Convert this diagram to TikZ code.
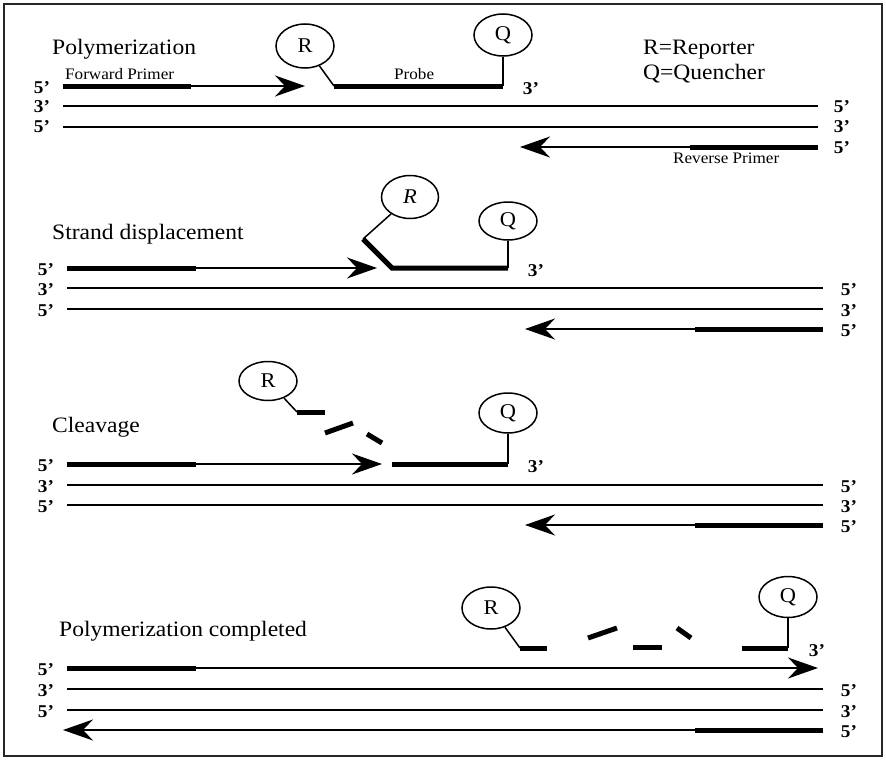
\documentclass[tikz,border=0pt]{standalone}
\usepackage{fontspec}
\setmainfont{Liberation Serif}[FakeStretch=1.07]
\usetikzlibrary{arrows.meta,shapes.geometric}
\begin{document}
\begin{tikzpicture}[x=1pt,y=-1pt,
  strand/.style={line width=2pt},
  thickstrand/.style={line width=5pt},
  frag/.style={line width=5pt},
  link/.style={line width=1.5pt},
  tag/.style={ellipse,draw,line width=1.5pt,inner sep=0pt,minimum width=58pt,minimum height=42pt,font=\fontsize{21}{22}\selectfont},
  heading/.style={anchor=base west,inner sep=0pt,font=\fontsize{22}{24}\selectfont},
  small/.style={anchor=base west,inner sep=0pt,font=\fontsize{16}{18}\selectfont},
  endlab/.style={inner sep=0pt,font=\bfseries\fontsize{18}{20}\selectfont},
  fwd/.style={line width=2pt,-{Stealth[length=30pt,width=21pt,inset=10pt]}},
]
\useasboundingbox (0,0) rectangle (886,760);
\draw[line width=1.5pt,black!85] (4,4) rectangle (882,756);

% ================= Panel 1: Polymerization =================
\node[heading] (h1) at (52,55) {Polymerization};
\node[heading] (leg1) at (643,55) {R=Reporter};
\node[heading] (leg2) at (643,79) {Q=Quencher};
\node[small] (fp) at (65,79) {Forward Primer};
\node[small] (pb) at (394,79) {Probe};
\node[small] (rp) at (673,163) {Reverse Primer};

\node[endlab] (l11) at (42,88) {5’};
\node[endlab] (l12) at (42,107) {3’};
\node[endlab] (l13) at (42,127) {5’};
\node[endlab] (r12) at (842,107) {5’};
\node[endlab] (r13) at (842,127) {3’};
\node[endlab] (r14) at (842,148) {5’};

\coordinate (a1s) at (63,86);   \coordinate (a1p) at (191,86);  \coordinate (a1t) at (305,86);
\draw[fwd] (a1s) -- (a1t);
\draw[thickstrand] (a1s) -- (a1p);
\draw[strand] (63,106) -- (818,106);
\draw[strand] (63,126.5) -- (818,126.5);
\coordinate (b1s) at (818,147); \coordinate (b1p) at (690,147); \coordinate (b1t) at (520,147);
\draw[fwd] (b1s) -- (b1t);
\draw[thickstrand] (b1s) -- (b1p);

\node[tag,minimum height=44pt] (R1) at (305,46) {R};
\node[tag] (Q1) at (503,35) {Q};
\coordinate (p1a) at (334,86); \coordinate (p1b) at (503,86);
\draw[link] (R1) -- (p1a);
\draw[link] (Q1.south) -- (p1b);
\draw[thickstrand] (p1a) -- (p1b);
\node[endlab] (t1) at (531,89) {3’};

% ================= Panel 2: Strand displacement =================
\node[heading] (h2) at (52,239) {Strand displacement};
\node[endlab] (l21) at (46,270) {5’};
\node[endlab] (l22) at (46,290) {3’};
\node[endlab] (l23) at (46,311) {5’};
\node[endlab] (r22) at (849,290) {5’};
\node[endlab] (r23) at (849,311) {3’};
\node[endlab] (r24) at (849,331) {5’};

\coordinate (a2s) at (67,268);  \coordinate (a2p) at (196,268); \coordinate (a2t) at (377,268);
\draw[fwd] (a2s) -- (a2t);
\draw[thickstrand] (a2s) -- (a2p);
\draw[strand] (67,288) -- (823,288);
\draw[strand] (67,309) -- (823,309);
\coordinate (b2s) at (823,329); \coordinate (b2p) at (695,329); \coordinate (b2t) at (525,329);
\draw[fwd] (b2s) -- (b2t);
\draw[thickstrand] (b2s) -- (b2p);

\node[tag,minimum width=57pt,minimum height=43pt] (R2) at (410,197) {\itshape R};
\node[tag,minimum height=38pt] (Q2) at (508,221) {Q};
\coordinate (p2k) at (363,239); \coordinate (p2a) at (392,268); \coordinate (p2b) at (508,268);
\draw[link] (R2) -- (p2k);
\draw[link] (Q2.south) -- (p2b);
\draw[thickstrand,line join=miter] (p2k) -- (p2a) -- (p2b);
\node[endlab] (t2) at (536,271) {3’};

% ================= Panel 3: Cleavage =================
\node[heading] (h3) at (52,432) {Cleavage};
\node[endlab] (l31) at (46,466) {5’};
\node[endlab] (l32) at (46,487) {3’};
\node[endlab] (l33) at (46,507) {5’};
\node[endlab] (r32) at (849,487) {5’};
\node[endlab] (r33) at (849,507) {3’};
\node[endlab] (r34) at (849,527) {5’};

\coordinate (a3s) at (67,464);  \coordinate (a3p) at (196,464); \coordinate (a3t) at (382,464);
\draw[fwd] (a3s) -- (a3t);
\draw[thickstrand] (a3s) -- (a3p);
\draw[strand] (67,485) -- (823,485);
\draw[strand] (67,505) -- (823,505);
\coordinate (b3s) at (823,525); \coordinate (b3p) at (695,525); \coordinate (b3t) at (525,525);
\draw[fwd] (b3s) -- (b3t);
\draw[thickstrand] (b3s) -- (b3p);

\node[tag,minimum height=39pt] (R3) at (268,381) {R};
\coordinate (f3a) at (297,412); \coordinate (f3b) at (325,412);
\draw[link] (R3) -- (f3a);
\draw[frag] (f3a) -- (f3b);
\draw[frag] (325,433) -- (353,423);
\draw[frag] (367,434) -- (382,443);

\node[tag,minimum height=40pt] (Q3) at (508,413) {Q};
\coordinate (p3a) at (392,464); \coordinate (p3b) at (508,464);
\draw[link] (Q3.south) -- (p3b);
\draw[thickstrand] (p3a) -- (p3b);
\node[endlab] (t3) at (536,467) {3’};

% ================= Panel 4: Polymerization completed =================
\node[heading] (h4) at (59,636) {Polymerization completed};
\node[endlab] (l41) at (46,670) {5’};
\node[endlab] (l42) at (46,691) {3’};
\node[endlab] (l43) at (46,712) {5’};
\node[endlab] (r42) at (849,691) {5’};
\node[endlab] (r43) at (849,712) {3’};
\node[endlab] (r44) at (849,732) {5’};

\coordinate (a4s) at (67,668);  \coordinate (a4p) at (196,668); \coordinate (a4t) at (818,668);
\draw[fwd] (a4s) -- (a4t);
\draw[thickstrand] (a4s) -- (a4p);
\draw[strand] (67,689) -- (823,689);
\draw[strand] (67,710) -- (823,710);
\coordinate (b4s) at (823,730); \coordinate (b4p) at (695,730); \coordinate (b4t) at (63,730);
\draw[fwd] (b4s) -- (b4t);
\draw[thickstrand] (b4s) -- (b4p);

\node[tag] (R4) at (491,608) {R};
\coordinate (f4a) at (520,648); \coordinate (f4b) at (547,648);
\draw[link] (R4) -- (f4a);
\draw[frag] (f4a) -- (f4b);
\draw[frag] (588,638) -- (617,628);
\draw[frag] (633,647) -- (662,647);
\draw[frag] (677,628) -- (691,638);
\node[tag,minimum height=41pt] (Q4) at (788,597) {Q};
\coordinate (f4c) at (742,648); \coordinate (f4d) at (788,648);
\draw[link] (Q4.south) -- (f4d);
\draw[frag] (f4c) -- (f4d);
\node[endlab] (t4) at (817,651) {3’};
\end{tikzpicture}
\end{document}
